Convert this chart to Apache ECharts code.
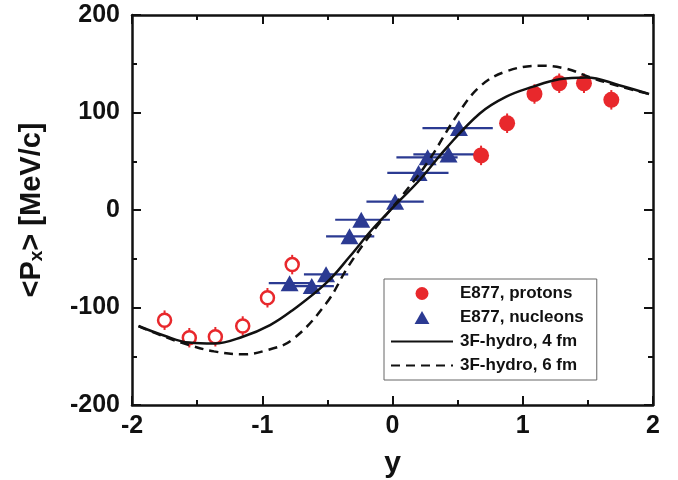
<!DOCTYPE html>
<html><head><meta charset="utf-8">
<script src="https://cdn.jsdelivr.net/npm/echarts@6/dist/echarts.min.js"></script>
<style>html,body{margin:0;padding:0;background:#fff}#c{width:678px;height:480px}</style>
</head><body><div id="c"></div>
<script>
// Filled proton points
var protonX = [0.68, 0.88, 1.09, 1.28, 1.47, 1.68];
var protonY = [56, 89, 119, 130, 130, 113];
var protonErr = [10, 10, 10, 10, 10, 10];
// Open (reflected) proton points
var openX = [-1.75, -1.56, -1.36, -1.15, -0.96, -0.77];
var openY = [-113, -131, -130, -119, -90, -56];
var openErr = [10, 10, 10, 10, 10, 10];
// Nucleon triangles with horizontal bars
var nucX = [-0.79, -0.62, -0.51, -0.33, -0.24, 0.02, 0.20, 0.27, 0.43, 0.51];
var nucY = [-75, -78, -66, -27, -10, 8.5, 38, 54, 57, 84];
var nucXlo = [-0.95, -0.79, -0.68, -0.51, -0.44, -0.20, -0.04, 0.03, 0.16, 0.23];
var nucXhi = [-0.62, -0.45, -0.34, -0.14, -0.02, 0.24, 0.43, 0.50, 0.71, 0.77];
// Hydro curves
var hydro4X = [-1.95, -1.75, -1.56, -1.37, -1.15, -0.94, -0.77, -0.51, -0.33, -0.15, 0.05, 0.21, 0.41, 0.67, 0.87, 1.08, 1.28, 1.49, 1.74, 1.97];
var hydro4Y = [-119, -129, -136, -137, -130, -118, -103, -75, -48, -19, 9, 31, 63, 99, 116, 126.5, 134, 136, 128, 119];
var hydro6X = [-1.95, -1.75, -1.56, -1.37, -1.15, -0.96, -0.77, -0.51, -0.34, -0.15, 0.13, 0.28, 0.49, 0.67, 0.87, 1.13, 1.33, 1.54, 1.74, 1.97];
var hydro6Y = [-119, -130, -138.5, -145, -148, -143.6, -133, -96, -58, -22, 24, 51, 96, 126.5, 142, 148, 145, 135, 127, 119];
var xTicks = [-2, -1, 0, 1, 2];
var yTicks = [-200, -100, 0, 100, 200];

var RED = '#e8282c', BLUE = '#2b3a92';
function zip(a, b) { return a.map(function (v, i) { return [v, b[i]]; }); }

var chart = echarts.init(document.getElementById('c'));
var font = 'Liberation Sans, Arial, sans-serif';
var axisCommon = {
  axisLine: { show: true, onZero: false, lineStyle: { color: '#111', width: 2.5 } },
  axisTick: { show: true, inside: true, length: 9, lineStyle: { color: '#111', width: 2 } },
  minorTick: { show: true, splitNumber: 2, length: 5, lineStyle: { color: '#111', width: 2 } },
  splitLine: { show: false }
};
function vbar(xs, ys, es, color) {
  return {
    type: 'custom', z: 3, silent: true,
    data: xs.map(function (x, i) { return [x, ys[i] - es[i], ys[i] + es[i]]; }),
    renderItem: function (p, api) {
      var a = api.coord([api.value(0), api.value(1)]);
      var b = api.coord([api.value(0), api.value(2)]);
      return { type: 'line', shape: { x1: a[0], y1: a[1], x2: b[0], y2: b[1] }, style: { stroke: color, lineWidth: 2 } };
    }
  };
}
chart.setOption({
  animation: false,
  backgroundColor: '#fff',
  grid: { left: 132, right: 25, top: 15, bottom: 75, containLabel: false, outerBoundsMode: 'none' },
  xAxis: [
    Object.assign({}, axisCommon, {
      type: 'value', min: -2, max: 2, interval: 1, position: 'bottom',
      axisLabel: { color: '#111', fontSize: 25, fontWeight: 'bold', fontFamily: font, margin: 9,
        formatter: function (v) { return xTicks.indexOf(v) >= 0 ? String(v) : ''; } },
      name: 'y', nameLocation: 'middle', nameGap: 44,
      nameTextStyle: { color: '#111', fontSize: 30, fontWeight: 'bold', fontFamily: font }
    }),
    Object.assign({}, axisCommon, {
      type: 'value', min: -2, max: 2, interval: 1, position: 'top', axisLabel: { show: false }
    })
  ],
  yAxis: [
    Object.assign({}, axisCommon, {
      type: 'value', min: -200, max: 200, interval: 100, position: 'left',
      axisLabel: { color: '#111', fontSize: 25, fontWeight: 'bold', fontFamily: font, margin: 12,
        formatter: function (v) { return yTicks.indexOf(v) >= 0 ? String(v) : ''; } },
      name: '{a|<P}{b|x}{a|> [MeV/c]}', nameLocation: 'middle', nameGap: 86, nameRotate: 90,
      nameTextStyle: {
        color: '#111', fontFamily: font,
        rich: {
          a: { fontSize: 29, fontWeight: 'bold', fontFamily: font, color: '#111', verticalAlign: 'bottom', lineHeight: 36 },
          b: { fontSize: 19, fontWeight: 'bold', fontFamily: font, color: '#111', verticalAlign: 'bottom', lineHeight: 26 }
        }
      }
    }),
    Object.assign({}, axisCommon, {
      type: 'value', min: -200, max: 200, interval: 100, position: 'right', axisLabel: { show: false }
    })
  ],
  legend: {
    left: 384, top: 279, orient: 'vertical',
    padding: [6, 13, 6, 6], itemGap: 7, itemWidth: 62, itemHeight: 13,
    borderColor: '#666', borderWidth: 1, backgroundColor: '#fff',
    textStyle: { color: '#111', fontSize: 17, fontWeight: 'bold', fontFamily: font, padding: [0, 0, 0, 2] },
    data: [
      { name: 'E877, protons', icon: 'circle', itemStyle: { color: RED } },
      { name: 'E877, nucleons', icon: 'path://M0,0 L8,14 L-8,14 Z', itemStyle: { color: BLUE } },
      { name: '3F-hydro, 4 fm', itemStyle: { opacity: 0, color: 'rgba(0,0,0,0)', borderWidth: 0 } },
      { name: '3F-hydro, 6 fm', itemStyle: { opacity: 0, color: 'rgba(0,0,0,0)', borderWidth: 0 } }
    ]
  },
  series: [
    vbar(protonX, protonY, protonErr, RED),
    vbar(openX, openY, openErr, RED),
    {
      type: 'custom', z: 3, silent: true,
      data: nucX.map(function (x, i) { return [nucXlo[i], nucXhi[i], nucY[i]]; }),
      renderItem: function (p, api) {
        var a = api.coord([api.value(0), api.value(2)]);
        var b = api.coord([api.value(1), api.value(2)]);
        return { type: 'line', shape: { x1: a[0], y1: a[1], x2: b[0], y2: b[1] }, style: { stroke: BLUE, lineWidth: 2.2 } };
      }
    },
    { name: 'E877, protons', type: 'scatter', z: 4, symbol: 'circle', symbolSize: 16,
      itemStyle: { color: RED, opacity: 1 }, data: zip(protonX, protonY) },
    { name: 'open', type: 'scatter', z: 4, symbol: 'circle', symbolSize: 13,
      itemStyle: { color: '#fff', borderColor: RED, borderWidth: 2.5, opacity: 1 }, data: zip(openX, openY) },
    { name: 'E877, nucleons', type: 'scatter', z: 4, symbol: 'triangle', symbolSize: [18, 16],
      itemStyle: { color: BLUE, opacity: 1 }, data: zip(nucX, nucY) },
    { name: '3F-hydro, 4 fm', type: 'line', z: 5, smooth: 0.4, showSymbol: false, symbol: 'none',
      lineStyle: { color: '#111', width: 2.5 }, itemStyle: { color: '#111' }, data: zip(hydro4X, hydro4Y) },
    { name: '3F-hydro, 6 fm', type: 'line', z: 5, smooth: 0.4, showSymbol: false, symbol: 'none',
      lineStyle: { color: '#111', width: 2.5, type: [9, 6] }, itemStyle: { color: '#111' }, data: zip(hydro6X, hydro6Y) }
  ]
});
</script>
</body></html>
